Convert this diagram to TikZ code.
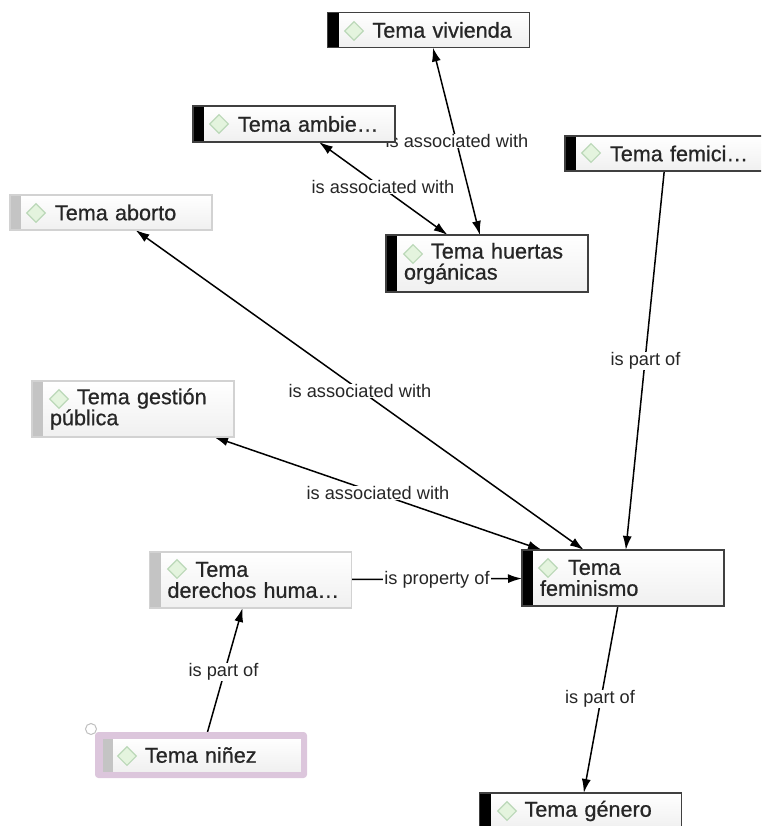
\documentclass[tikz,border=0pt]{standalone}
\usepackage{fontspec}
\setmainfont{Liberation Sans}
\newfontfamily\semibold[FakeBold=0.7]{Liberation Sans}
\usetikzlibrary{arrows.meta,shapes.geometric}
\pgfdeclarelayer{edges}
\pgfdeclarelayer{labels}
\pgfsetlayers{edges,labels,main}
\definecolor{barsoft}{HTML}{C4C4C4}
\definecolor{edgesoft}{HTML}{D2D2D2}
\definecolor{halo}{HTML}{DCC6DC}
\definecolor{ink}{HTML}{262626}
\definecolor{dfill}{HTML}{E4F4DE}
\definecolor{dline}{HTML}{BBD8B8}
\tikzset{
  topicbox/.style n args={3}{rectangle,draw=#2,line width=1.1pt,top color=white,bottom color=black!6,
    minimum width=202pt,minimum height=#3,inner sep=0pt,outer sep=0pt,text=ink,align=left,
    text width=202pt,font=\semibold\fontsize{21.6}{21}\selectfont,
    path picture={\fill[#1] (path picture bounding box.south west) rectangle
      ([xshift=11pt]path picture bounding box.north west);}},
  solid/.style={topicbox={black}{black!75}{#1}},
  soft/.style={topicbox={barsoft}{edgesoft}{#1}},
  mark diamond/.style={diamond,draw=dline,fill=dfill,line width=1.1pt,minimum width=19pt,minimum height=19pt,inner sep=0pt,aspect=1},
  rel/.style={draw=black,line width=1.5pt},
  tip end/.style={rel,-{Latex[length=14pt,width=9pt]}},
  tip both/.style={rel,{Latex[length=14pt,width=9pt]}-{Latex[length=14pt,width=9pt]}},
  rellabel/.style={fill=white,inner xsep=1pt,inner ysep=0.5pt,text=ink,font=\fontsize{18.2}{20}\selectfont},
}
\begin{document}
\begin{tikzpicture}[x=1pt,y=-1pt]
\useasboundingbox (0,0) rectangle (761,826);
\clip (0,0) rectangle (761,826);

% topics
\node[solid=35pt] (vivienda) at (428.5,30) {\hspace*{45pt}Tema vivienda};
\node[solid=36pt] (ambiente) at (294,124) {\hspace*{45pt}Tema ambie…};
\node[soft=35pt] (aborto) at (111,212.5) {\hspace*{45pt}Tema aborto};
\node[solid=35pt] (femicidio) at (666,153.5) {\hspace*{45pt}Tema femici…};
\node[solid=57pt] (huertas) at (487,263.5) {\hspace*{45pt}Tema huertas\\\hspace*{18pt}orgánicas};
\node[soft=56pt] (gestion) at (133,409) {\hspace*{45pt}Tema gestión\\\hspace*{18pt}pública};
\node[soft=56pt] (derechos) at (250.5,580) {\hspace*{46pt}Tema\\\hspace*{18pt}derechos huma…};
\node[solid=56pt] (feminismo) at (623,578) {\hspace*{46pt}Tema\\\hspace*{18pt}feminismo};
\node[solid=36pt] (genero) at (580.5,811) {\hspace*{45pt}Tema género};
\node[draw=halo,fill=halo,rounded corners=3pt,line width=1pt,minimum width=211pt,minimum height=45pt,inner sep=0pt] (ninez) at (201,755) {};
\node[topicbox={barsoft}{halo}{34pt},minimum width=199pt,text width=199pt,line width=0.3pt] (ninezinner) at (201.5,755) {\hspace*{43pt}Tema niñez};
\node[circle,draw=black!25,fill=white,line width=1pt,minimum size=11pt,inner sep=0pt] (handle) at (91,729) {};

% topic markers
\node[mark diamond] (dvivienda) at (354,31) {};
\node[mark diamond] (dambiente) at (219,124) {};
\node[mark diamond] (daborto) at (36,213) {};
\node[mark diamond] (dfemicidio) at (591,153) {};
\node[mark diamond] (dhuertas) at (413,254) {};
\node[mark diamond] (dgestion) at (59,399) {};
\node[mark diamond] (dderechos) at (177,569) {};
\node[mark diamond] (dfeminismo) at (548,568) {};
\node[mark diamond] (dgenero) at (507,811) {};
\node[mark diamond] (dninez) at (127,756) {};

% connectors
\begin{pgfonlayer}{edges}
\draw[tip both] (vivienda) -- (huertas);
\draw[tip both] (ambiente) -- (huertas);
\draw[tip both] (aborto) -- (feminismo);
\draw[tip both] (gestion) -- (feminismo);
\draw[tip end] (femicidio) -- (feminismo);
\draw[tip end] (derechos) -- (feminismo);
\draw[tip end] (feminismo) -- (genero);
\draw[tip end] (ninez) -- (derechos);
\end{pgfonlayer}

% connector labels
\begin{pgfonlayer}{labels}
\node[rellabel] (l1) at (457,141) {is associated with};
\node[rellabel] (l2) at (383,187) {is associated with};
\node[rellabel] (l3) at (360,391) {is associated with};
\node[rellabel] (l4) at (378,493) {is associated with};
\node[rellabel] (l5) at (437,580) {is property of};
\node[rellabel] (l6) at (645.5,361) {is part of};
\node[rellabel] (l7) at (600,699) {is part of};
\node[rellabel] (l8) at (223.5,672) {is part of};
\end{pgfonlayer}
\end{tikzpicture}
\end{document}
